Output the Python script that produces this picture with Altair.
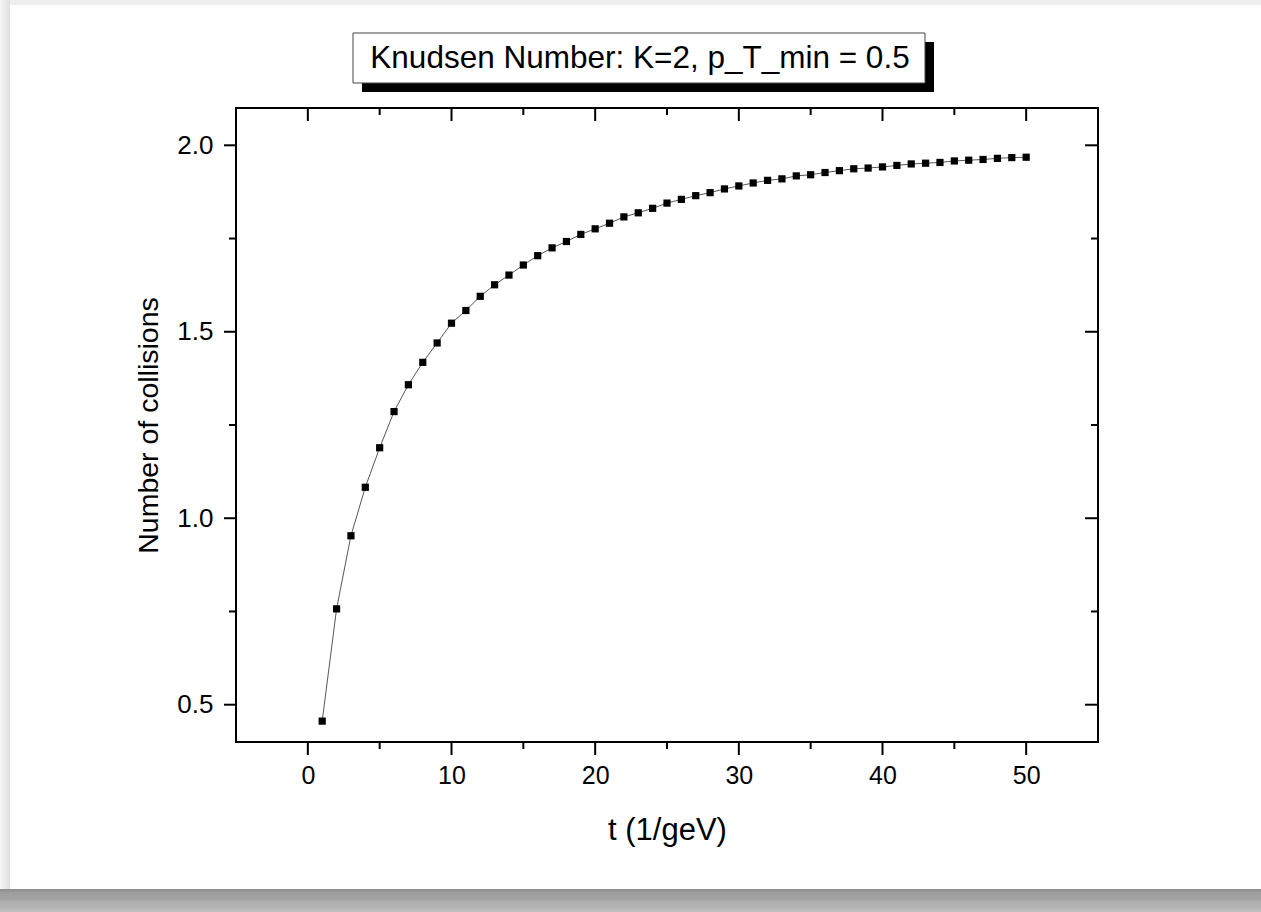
import altair as alt
import pandas as pd

# ---- data ----
t_values = [1, 2, 3, 4, 5, 6, 7, 8, 9, 10,
            11, 12, 13, 14, 15, 16, 17, 18, 19, 20,
            21, 22, 23, 24, 25, 26, 27, 28, 29, 30,
            31, 32, 33, 34, 35, 36, 37, 38, 39, 40,
            41, 42, 43, 44, 45, 46, 47, 48, 49, 50]
collisions = [0.456, 0.757, 0.953, 1.083, 1.189, 1.286, 1.358, 1.418, 1.470, 1.523,
              1.557, 1.595, 1.626, 1.652, 1.679, 1.704, 1.725, 1.742, 1.761, 1.776,
              1.791, 1.808, 1.819, 1.831, 1.845, 1.855, 1.865, 1.873, 1.883, 1.891,
              1.899, 1.906, 1.910, 1.918, 1.921, 1.927, 1.932, 1.937, 1.939, 1.942,
              1.946, 1.950, 1.952, 1.954, 1.958, 1.960, 1.962, 1.965, 1.967, 1.968]

x_major = [0, 10, 20, 30, 40, 50]
x_minor = [5, 15, 25, 35, 45]
y_major = [0.5, 1.0, 1.5, 2.0]
y_minor = [0.75, 1.25, 1.75]

title_text = "Knudsen Number: K=2, p_T_min = 0.5"
x_title = "t (1/geV)"
y_title = "Number of collisions"

FONT = "Liberation Sans"
W, H = 862, 634

xscale = alt.Scale(domain=[-5, 55], nice=False, zero=False)
yscale = alt.Scale(domain=[0.4, 2.1], nice=False, zero=False)

xaxis = alt.Axis(values=x_major, ticks=False, tickSize=0, domain=False, grid=False,
                 labelFont=FONT, labelFontSize=25, labelColor="black", labelPadding=21,
                 labelOverlap=False, labelFlush=False,
                 title=x_title, titleFont=FONT, titleFontSize=31, titleFontWeight="normal",
                 titleColor="black", titleY=97, titleBaseline="alphabetic")
yaxis = alt.Axis(values=y_major, format=".1f", ticks=False, tickSize=0, domain=False, grid=False,
                 labelFont=FONT, labelFontSize=26, labelColor="black", labelPadding=23,
                 labelOverlap=False, labelFlush=False,
                 title=y_title, titleFont=FONT, titleFontSize=28.5, titleFontWeight="normal",
                 titleColor="black", titleAngle=270, titleX=-79, titleY=H / 2,
                 titleAlign="center", titleBaseline="alphabetic")

df = pd.DataFrame({"t": t_values, "n": collisions})
one = pd.DataFrame({"a": [0]})

# ---- frame decoration (page shadow) ----
bottom_band = alt.Chart(one).mark_rect(
    color=alt.LinearGradient(
        gradient="linear", x1=0, x2=0, y1=0, y2=1,
        stops=[alt.GradientStop(color="#8c8c8c", offset=0),
               alt.GradientStop(color="#9d9d9d", offset=0.15),
               alt.GradientStop(color="#a4a4a4", offset=0.45),
               alt.GradientStop(color="#afafaf", offset=0.55),
               alt.GradientStop(color="#b4b4b4", offset=0.8),
               alt.GradientStop(color="#c2c2c2", offset=1)])
).encode(x=alt.value(-236), x2=alt.value(1025), y=alt.value(781), y2=alt.value(804))

left_band = alt.Chart(one).mark_rect(
    color=alt.LinearGradient(
        gradient="linear", x1=0, x2=1, y1=0, y2=0,
        stops=[alt.GradientStop(color="#f6f6f6", offset=0),
               alt.GradientStop(color="#e0e0e0", offset=1)])
).encode(x=alt.value(-236), x2=alt.value(-226), y=alt.value(-108), y2=alt.value(781))

top_band = alt.Chart(one).mark_rect(color="#eeeeee").encode(
    x=alt.value(-226), x2=alt.value(1025), y=alt.value(-108), y2=alt.value(-103))

# ---- title box ----
shadow = alt.Chart(one).mark_rect(color="black").encode(
    x=alt.value(126), x2=alt.value(698), y=alt.value(-66), y2=alt.value(-16))
box = alt.Chart(one).mark_rect(fill="white", stroke="#444444", strokeWidth=1).encode(
    x=alt.value(117), x2=alt.value(689), y=alt.value(-75), y2=alt.value(-25))
title = alt.Chart(one).mark_text(
    text=title_text, font=FONT, fontSize=31.5, color="black",
    align="center", baseline="alphabetic"
).encode(x=alt.value(404), y=alt.value(-40))

# ---- ticks ----
def xticks(vals, y0, y1):
    return alt.Chart(pd.DataFrame({"t": vals})).mark_rule(color="black", strokeWidth=2).encode(
        x=alt.X("t:Q", scale=xscale, axis=xaxis), y=alt.value(y0), y2=alt.value(y1))

def yticks(vals, x0, x1):
    return alt.Chart(pd.DataFrame({"n": vals})).mark_rule(color="black", strokeWidth=2).encode(
        y=alt.Y("n:Q", scale=yscale, axis=yaxis), x=alt.value(x0), x2=alt.value(x1))

ticks = [
    xticks(x_major, H, H + 13), xticks(x_minor, H, H + 7),
    xticks(x_major, 0, 13), xticks(x_minor, 0, 7),
    yticks(y_major, 0, -12), yticks(y_minor, 0, -7),
    yticks(y_major, W, W - 13), yticks(y_minor, W, W - 7),
]

# ---- data ----
line = alt.Chart(df).mark_line(color="#444444", strokeWidth=0.9).encode(
    x=alt.X("t:Q", scale=xscale, axis=xaxis),
    y=alt.Y("n:Q", scale=yscale, axis=yaxis))
points = alt.Chart(df).mark_point(shape="square", filled=True, color="black", size=52, opacity=1).encode(
    x=alt.X("t:Q", scale=xscale, axis=xaxis),
    y=alt.Y("n:Q", scale=yscale, axis=yaxis))

chart = alt.layer(
    bottom_band, left_band, top_band, shadow, box, title, *ticks, line, points
).properties(
    width=W, height=H,
    padding={"left": 236, "top": 108, "right": 163, "bottom": 170},
    autosize=alt.AutoSizeParams(type="none"),
    background="white",
).configure_view(stroke="black", strokeWidth=2)

chart.save("out.html", embed_options={"renderer": "svg", "actions": False})
